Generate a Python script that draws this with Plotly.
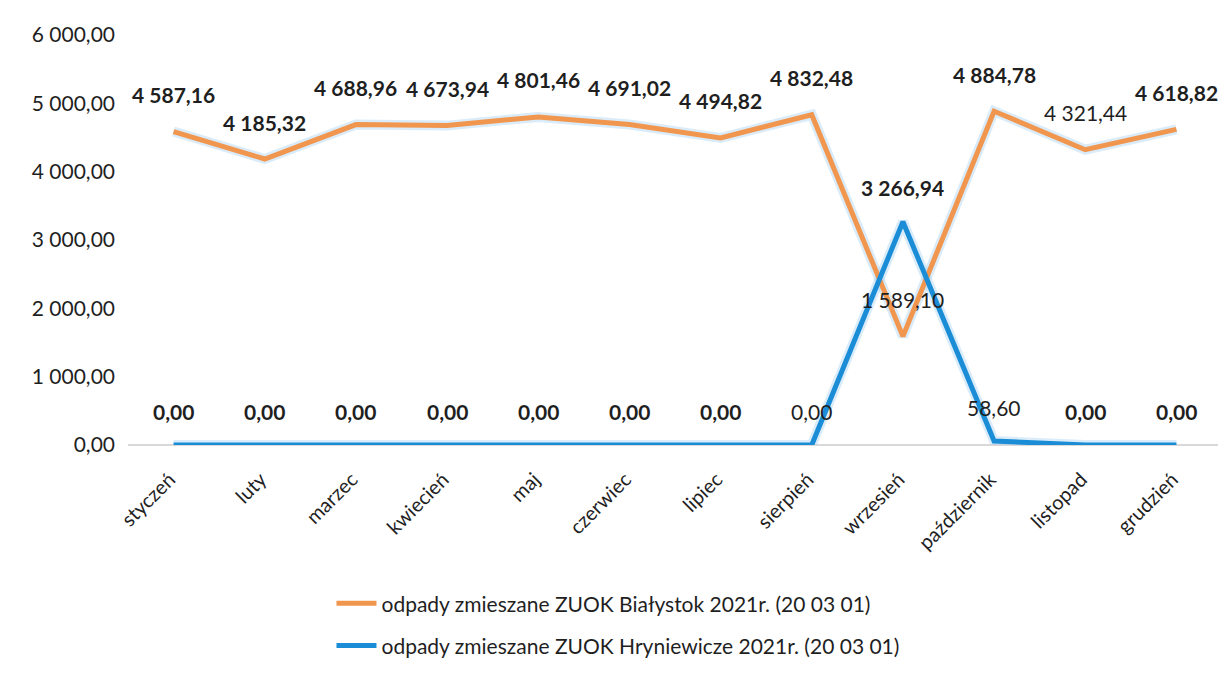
import plotly.graph_objects as go

months = ["styczeń", "luty", "marzec", "kwiecień", "maj", "czerwiec",
          "lipiec", "sierpień", "wrzesień", "październik", "listopad", "grudzień"]
bialystok = [4587.16, 4185.32, 4688.96, 4673.94, 4801.46, 4691.02,
             4494.82, 4832.48, 1589.10, 4884.78, 4321.44, 4618.82]
hryniewicze = [0.00, 0.00, 0.00, 0.00, 0.00, 0.00,
               0.00, 0.00, 3266.94, 58.60, 0.00, 0.00]
name_b = "odpady zmieszane ZUOK Białystok 2021r. (20 03 01)"
name_h = "odpady zmieszane ZUOK Hryniewicze 2021r. (20 03 01)"
y_ticks = [0, 1000, 2000, 3000, 4000, 5000, 6000]

ORANGE = "#F0964F"
BLUE = "#1A8DD6"
FONT = "Lato"
TXT = "#1f1f1f"


def pl(v):
    return f"{v:,.2f}".replace(",", " ").replace(".", ",")


fig = go.Figure()

# soft halo under the lines (scan look)
for vals in (bialystok, hryniewicze):
    fig.add_trace(go.Scatter(x=months, y=vals, mode="lines", showlegend=False,
                             line=dict(color="rgba(150,200,240,0.35)", width=10),
                             hoverinfo="skip"))

fig.add_trace(go.Scatter(x=months, y=bialystok, mode="lines", name=name_b,
                         legendgroup="b", line=dict(color=ORANGE, width=5)))
fig.add_trace(go.Scatter(x=months, y=hryniewicze, mode="lines", name=name_h,
                         legendgroup="h", line=dict(color=BLUE, width=5)))

# labels drawn in normal weight (the ones that sit on lines in the original)
light_b = {8, 10}
light_h = {7, 9}

for i, (m, v) in enumerate(zip(months, bialystok)):
    fig.add_annotation(x=m, y=v, text=pl(v), showarrow=False, yshift=37,
                       font=dict(family=FONT, size=21, color=TXT,
                                 weight="normal" if i in light_b else "bold"))
for i, (m, v) in enumerate(zip(months, hryniewicze)):
    fig.add_annotation(x=m, y=v, text=pl(v), showarrow=False, yshift=34,
                       font=dict(family=FONT, size=21, color=TXT,
                                 weight="normal" if i in light_h else "bold"))

# page body adds 8px offset, so the figure is a bit smaller than the window
fig.update_layout(
    width=1214, height=657,
    paper_bgcolor="white", plot_bgcolor="white",
    margin=dict(l=120, r=0, t=27, b=220, autoexpand=False),
    separators=", ",
    font=dict(family=FONT, size=20, color=TXT),
    legend=dict(orientation="v", x=0.186, xanchor="left", y=-0.337, yanchor="top",
                font=dict(family=FONT, size=21, color=TXT),
                traceorder="grouped", tracegroupgap=12, itemwidth=40),
    xaxis=dict(type="category", range=[-0.5, 11.5], tickangle=-45,
               showgrid=False, showline=False, ticks="",
               ticklabelstandoff=18, ticklabelshift=-4,
               tickfont=dict(family=FONT, size=20, color=TXT)),
    yaxis=dict(range=[0, 6000], tickvals=y_ticks, tickformat=",.2f",
               showgrid=False, zeroline=True, zerolinecolor="#d9d9d9",
               zerolinewidth=1.5, ticks="", ticklabelstandoff=12,
               tickfont=dict(family=FONT, size=21, color=TXT)),
)

fig.write_html("out.html")
